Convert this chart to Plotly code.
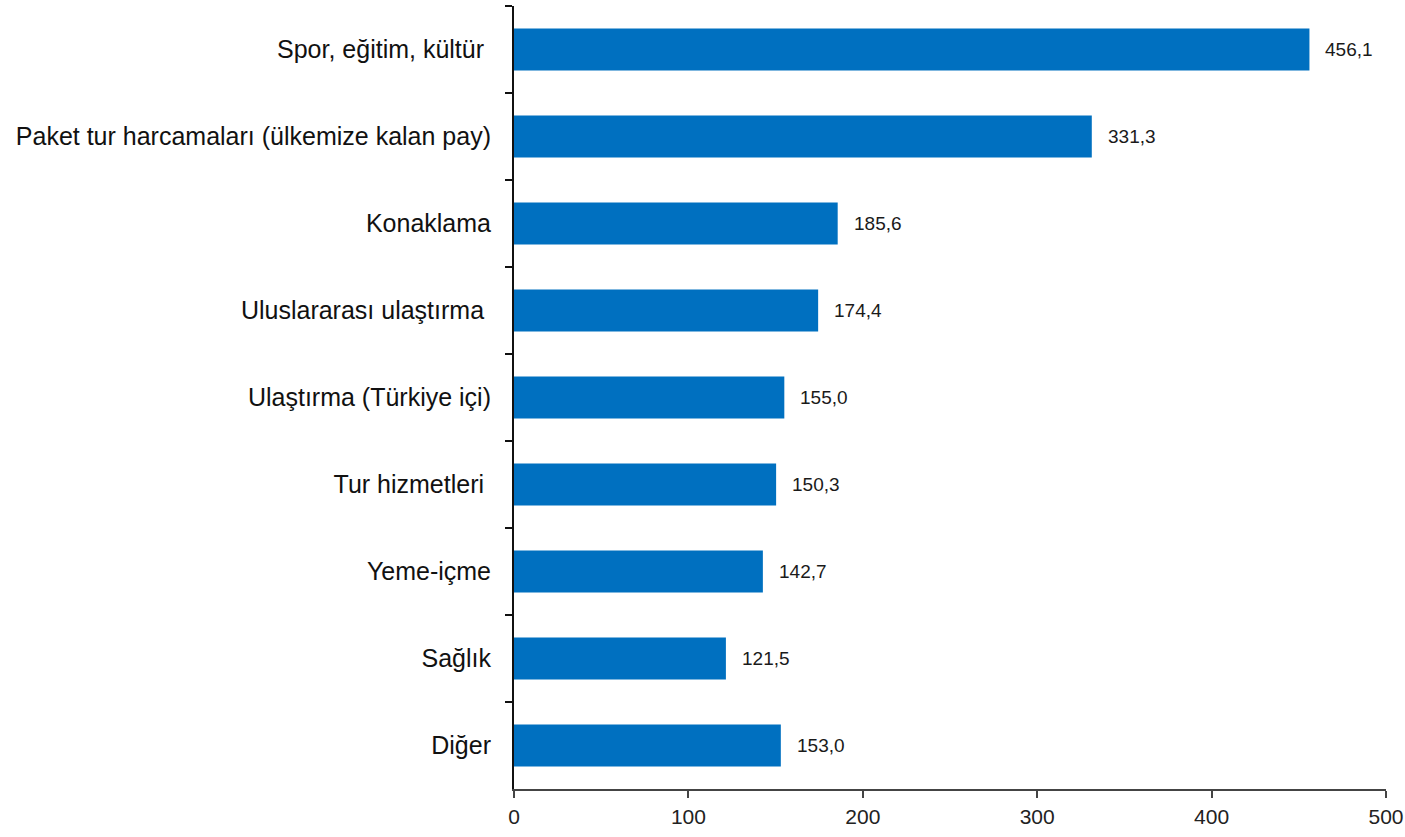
import plotly.graph_objects as go

categories = [
    "Spor, eğitim, kültür ",
    "Paket tur harcamaları (ülkemize kalan pay)",
    "Konaklama",
    "Uluslararası ulaştırma ",
    "Ulaştırma (Türkiye içi)",
    "Tur hizmetleri ",
    "Yeme-içme",
    "Sağlık",
    "Diğer",
]
values = [456.1, 331.3, 185.6, 174.4, 155.0, 150.3, 142.7, 121.5, 153.0]
x_ticks = [0, 100, 200, 300, 400, 500]

labels = [f"{v:.1f}".replace(".", ",") for v in values]
FONT = "Liberation Sans, Arial, sans-serif"

fig = go.Figure(
    go.Bar(
        x=values,
        y=categories,
        orientation="h",
        marker=dict(color="#0070C0", line=dict(width=0)),
        width=0.48,
        hoverinfo="x+y",
    )
)

for v, c, t in zip(values, categories, labels):
    fig.add_annotation(
        x=v, y=c, text=t, showarrow=False, xanchor="left", yanchor="middle",
        xshift=14, font=dict(family=FONT, size=19, color="#1a1a1a"),
    )

fig.update_layout(
    width=1405, height=837,
    margin=dict(l=514, r=19, t=6, b=48),
    paper_bgcolor="white", plot_bgcolor="white",
    showlegend=False,
    font=dict(family=FONT),
)
fig.update_xaxes(
    range=[0, 500], tickvals=x_ticks, showgrid=False, zeroline=False,
    showline=True, linecolor="#444444", linewidth=2,
    ticks="outside", ticklen=7, tickcolor="#444444", tickwidth=1.5,
    tickfont=dict(family=FONT, size=21, color="#222222"),
    ticklabelstandoff=1, automargin=False,
)
fig.update_yaxes(
    categoryorder="array", categoryarray=categories, autorange="reversed",
    showgrid=False, zeroline=False,
    showline=True, linecolor="#111111", linewidth=2,
    ticks="outside", ticklen=7, tickcolor="#111111", tickwidth=1.5,
    tickson="boundaries",
    tickfont=dict(family=FONT, size=25, color="#111111"),
    ticklabelstandoff=16, automargin=False,
)

fig.write_html(
    "out.html",
    config={"displayModeBar": False},
    post_script="document.body.style.margin='0';document.body.style.overflow='hidden';",
)
